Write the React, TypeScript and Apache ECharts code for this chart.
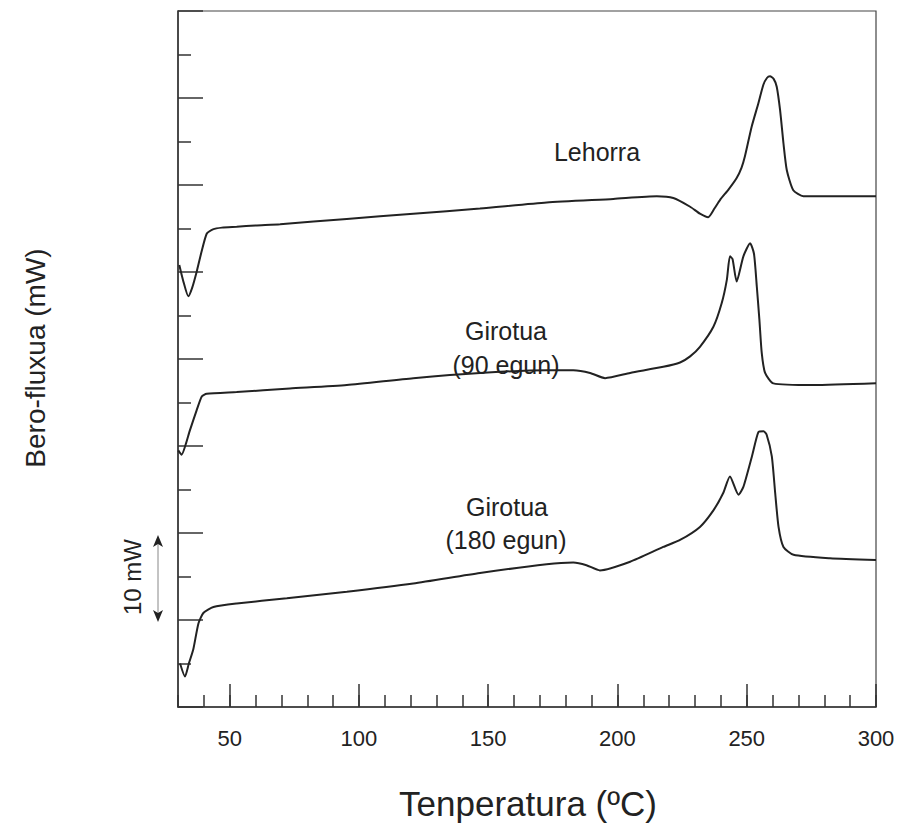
import React, { useEffect, useRef } from "react";
import * as echarts from "echarts";

// Temperature (ºC) and heat flow (mW) samples
const lehorraT = [30.5, 32.0, 34.0, 35.5, 37.2, 39.0, 41.1, 43.5, 47.0, 52.7, 60.0, 69.5, 95.3, 121.0, 146.8, 172.6, 198.4, 215.2, 221.6, 228.1, 231.9, 235.1, 237.5, 239.7, 243.0, 246.1, 248.0, 249.3, 251.9, 254.5, 256.4, 257.8, 259.0, 260.4, 261.6, 262.9, 264.2, 265.5, 268.0, 271.9, 285.0, 300.0];
const lehorraQ = [50.8, 49.0, 47.2, 48.2, 50.0, 52.2, 54.4, 54.9, 55.1, 55.2, 55.35, 55.5, 56.1, 56.7, 57.3, 58.0, 58.4, 58.7, 58.5, 57.5, 56.7, 56.3, 57.3, 58.3, 59.5, 60.8, 62.0, 63.3, 66.7, 69.4, 71.5, 72.3, 72.5, 72.2, 71.3, 68.6, 64.8, 61.7, 59.4, 58.7, 58.7, 58.7];

const girotua90T = [30.1, 31.4, 33.0, 34.6, 37.2, 39.2, 41.1, 52.7, 73.3, 95.3, 121.0, 146.8, 172.6, 182.9, 189.4, 195.2, 204.9, 217.7, 224.2, 228.1, 231.9, 237.1, 240.3, 242.3, 243.5, 244.5, 246.1, 248.7, 251.3, 252.8, 253.9, 254.9, 255.8, 257.1, 260.3, 275.8, 300.0];
const girotua90Q = [29.5, 29.0, 30.2, 31.8, 34.1, 35.7, 36.0, 36.2, 36.6, 37.0, 37.8, 38.4, 38.7, 38.7, 38.4, 37.8, 38.4, 39.1, 39.6, 40.3, 41.4, 43.7, 46.4, 49.1, 51.8, 51.5, 48.9, 51.8, 53.3, 52.1, 48.3, 44.5, 40.7, 38.4, 37.2, 37.0, 37.2];

const girotua180T = [30.8, 32.7, 34.2, 35.9, 37.9, 39.8, 43.7, 52.7, 72.1, 95.3, 121.0, 146.8, 172.6, 182.9, 188.0, 193.2, 204.9, 217.7, 224.2, 231.9, 237.1, 240.9, 243.5, 246.8, 248.7, 252.0, 254.5, 256.5, 257.7, 259.7, 261.0, 262.3, 264.2, 268.1, 282.2, 300.0];
const girotua180Q = [5.0, 3.5, 5.0, 6.6, 9.6, 10.8, 11.5, 11.9, 12.5, 13.25, 14.2, 15.4, 16.4, 16.6, 16.3, 15.7, 16.7, 18.4, 19.2, 20.7, 22.6, 24.6, 26.5, 24.4, 25.3, 28.8, 31.6, 31.7, 31.3, 28.8, 24.6, 20.7, 18.4, 17.5, 17.1, 16.9];

const majorXTicks = [50, 100, 150, 200, 250, 300];

const xTitle = "Tenperatura (ºC)";
const yTitle = "Bero-fluxua (mW)";
const scaleNote = "10 mW";

const zip = (xs: number[], ys: number[]) => xs.map((x, i) => [x, ys[i]]);

export default function App() {
  const ref = useRef<HTMLDivElement>(null);
  useEffect(() => {
    if (!ref.current) return;
    const chart = echarts.init(ref.current, undefined, { renderer: "svg" });
    const font = "Liberation Sans, Arial, sans-serif";
    const ink = "#222";
    const lineSeries = (name: string, data: number[][]) => ({
      name,
      type: "line",
      data,
      showSymbol: false,
      smooth: 0.2,
      lineStyle: { color: "#222", width: 2 },
      xAxisIndex: 0,
      yAxisIndex: 0,
    });
    chart.setOption({
      animation: false,
      backgroundColor: "#fff",
      grid: {
        left: 178,
        right: 27,
        top: 11,
        bottom: 124,
        containLabel: false,
        outerBoundsMode: "none",
        show: true,
        borderColor: "#444",
        borderWidth: 1.2,
      },
      xAxis: [
        {
          type: "value",
          min: 30,
          max: 300,
          interval: 10,
          position: "bottom",
          axisLine: { show: true, lineStyle: { color: "#333", width: 1.5 } },
          axisTick: { show: true, inside: true, length: 12, lineStyle: { color: "#333", width: 1.5 } },
          axisLabel: {
            show: true,
            margin: 20,
            fontSize: 22,
            fontFamily: font,
            color: ink,
            formatter: (v: number) => (v % 50 === 0 ? String(v) : ""),
          },
          splitLine: { show: false },
        },
        {
          type: "value",
          min: 30,
          max: 300,
          interval: 10,
          position: "bottom",
          axisLine: { show: false },
          axisTick: {
            show: true,
            inside: true,
            length: 23,
            customValues: majorXTicks,
            lineStyle: { color: "#333", width: 1.5 },
          },
          axisLabel: { show: false },
          splitLine: { show: false },
        },
      ],
      yAxis: {
        type: "value",
        min: 0,
        max: 80,
        interval: 10,
        axisLine: { show: true, lineStyle: { color: "#333", width: 1.5 } },
        axisTick: { show: true, inside: true, length: 25, lineStyle: { color: "#333", width: 1.5 } },
        minorTick: { show: true, splitNumber: 2, length: 13, lineStyle: { color: "#333", width: 1.5 } },
        axisLabel: { show: false },
        splitLine: { show: false },
        minorSplitLine: { show: false },
      },
      series: [
        lineSeries("Lehorra", zip(lehorraT, lehorraQ)),
        lineSeries("Girotua (90 egun)", zip(girotua90T, girotua90Q)),
        lineSeries("Girotua (180 egun)", zip(girotua180T, girotua180Q)),
      ],
      graphic: [
        { type: "text", x: 528, y: 803, style: { text: xTitle, font: `35px ${font}`, fill: ink, textAlign: "center", textVerticalAlign: "middle" } },
        { type: "text", x: 35, y: 358, rotation: Math.PI / 2, style: { text: yTitle, font: `28px ${font}`, fill: ink, textAlign: "center", textVerticalAlign: "middle" } },
        { type: "text", x: 597, y: 152, style: { text: "Lehorra", font: `25px ${font}`, fill: ink, textAlign: "center", textVerticalAlign: "middle" } },
        { type: "text", x: 506, y: 331, style: { text: "Girotua", font: `25px ${font}`, fill: ink, textAlign: "center", textVerticalAlign: "middle" } },
        { type: "text", x: 506, y: 365, style: { text: "(90 egun)", font: `25px ${font}`, fill: ink, textAlign: "center", textVerticalAlign: "middle" } },
        { type: "text", x: 507, y: 507, style: { text: "Girotua", font: `25px ${font}`, fill: ink, textAlign: "center", textVerticalAlign: "middle" } },
        { type: "text", x: 506, y: 540, style: { text: "(180 egun)", font: `25px ${font}`, fill: ink, textAlign: "center", textVerticalAlign: "middle" } },
        { type: "text", x: 132, y: 577, rotation: Math.PI / 2, style: { text: scaleNote, font: `24px ${font}`, fill: ink, textAlign: "center", textVerticalAlign: "middle" } },
        { type: "line", shape: { x1: 158, y1: 540, x2: 158, y2: 617 }, style: { stroke: "#888", lineWidth: 1 } },
        { type: "polygon", shape: { points: [[158, 535], [153, 547], [158, 544], [163, 547]] }, style: { fill: "#222" } },
        { type: "polygon", shape: { points: [[158, 622], [153, 610], [158, 613], [163, 610]] }, style: { fill: "#222" } },
      ],
    });
    return () => chart.dispose();
  }, []);
  return <div ref={ref} style={{ position: "absolute", left: 0, top: 0, width: 903, height: 831 }} />;
}
